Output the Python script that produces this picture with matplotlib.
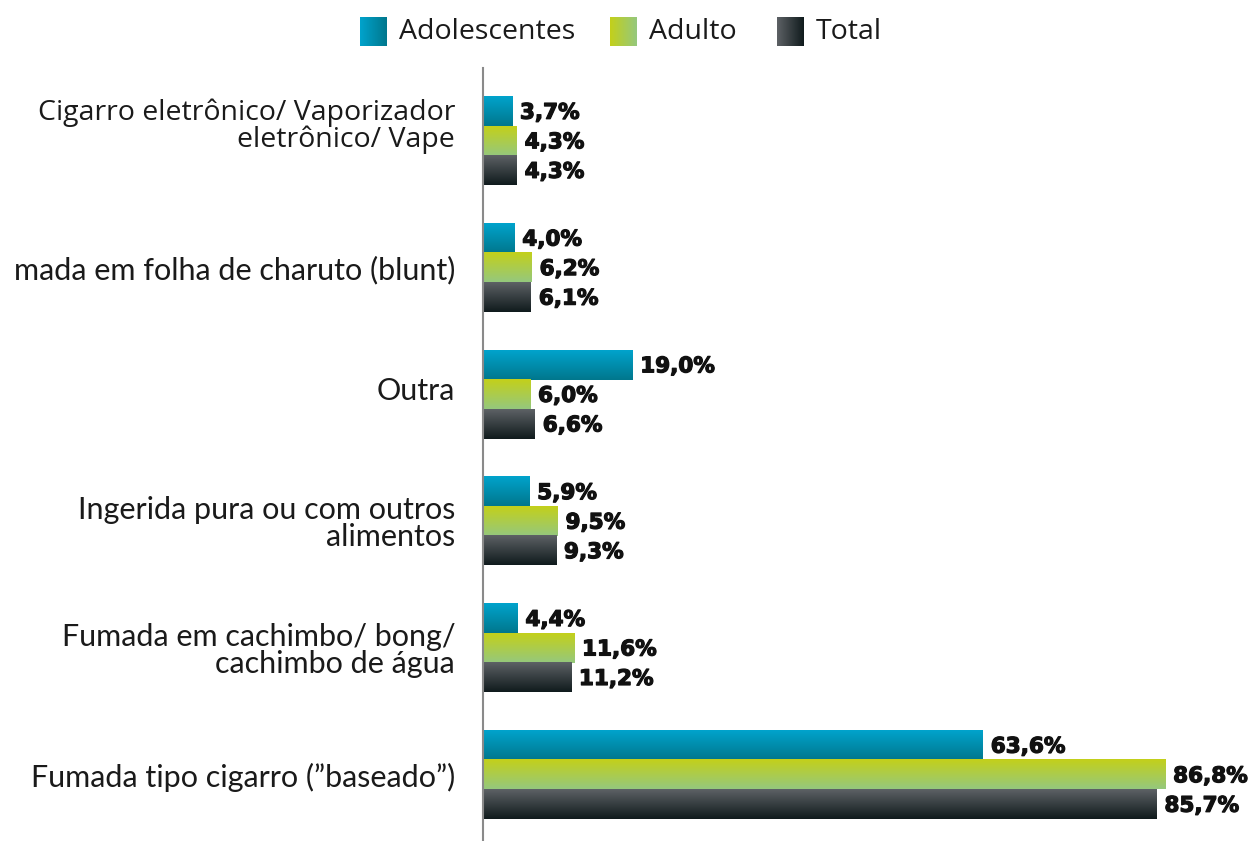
import matplotlib
matplotlib.use("Agg")
import matplotlib.pyplot as plt
import matplotlib.transforms as mtransforms
import matplotlib.patheffects as pe
import numpy as np
from matplotlib.colors import to_rgb

categories = ["Cigarro eletrônico/ Vaporizador\neletrônico/ Vape",
              "mada em folha de charuto (blunt)",
              "Outra",
              "Ingerida pura ou com outros\nalimentos",
              "Fumada em cachimbo/ bong/\ncachimbo de água",
              "Fumada tipo cigarro (\u201dbaseado\u201d)"]
series = ["Adolescentes", "Adulto", "Total"]
adolescentes = [3.7, 4.0, 19.0, 5.9, 4.4, 63.6]
adulto = [4.3, 6.2, 6.0, 9.5, 11.6, 86.8]
total = [4.3, 6.1, 6.6, 9.3, 11.2, 85.7]
values = [adolescentes, adulto, total]

# top colour, bottom colour of each gradient
grads = [("#00a3cc", "#00778d"), ("#c3d01a", "#95c87d"), ("#5d6165", "#101b1d")]

def gradient(c1, c2, n=64, horizontal=False):
    a = np.array(to_rgb(c1)); b = np.array(to_rgb(c2))
    t = np.linspace(0, 1, n)[:, None]
    g = a + (b - a) * t
    g = g[:, None, :] if not horizontal else g[None, :, :]
    return g

fig = plt.figure(figsize=(12.5, 8.41), dpi=100)
ax = fig.add_axes([483/1250, 1 - 840/841, (1250-483)/1250, (840-68)/841])

h = 0.229
offs = [-0.233, 0, 0.233]
ypos = np.arange(len(categories))
thick = [pe.withStroke(linewidth=0.9, foreground="#111111")]
for s in range(3):
    for i, v in enumerate(values[s]):
        y = ypos[i] + offs[s]
        ax.imshow(gradient(*grads[s]), extent=[0, v, y + h/2, y - h/2],
                  aspect="auto", interpolation="bilinear", zorder=2)
        ax.text(v + 1.0, y + 0.01, f"{v:.1f}".replace(".", ",") + "%",
                va="center", ha="left", fontsize=15.5, fontweight="bold",
                family="DejaVu Sans", color="#111111", path_effects=thick)

ax.set_xlim(0, (1250-483)/7.86)
ax.set_ylim(5.513, -0.576)
ax.set_xticks([])
ax.set_yticks(ypos)
ax.set_yticklabels(categories, fontsize=22, family="Lato", color="#1a1a1a",
                   linespacing=0.98)
ax.tick_params(axis="y", length=0, pad=20)
labels = ax.get_yticklabels()
lbl = labels[0]
lbl.set_fontfamily("Open Sans")
lbl.set_fontsize(20.5)
lbl.set_fontweight("medium")
lbl.set_linespacing(0.95)
# small upward shifts seen in the original layout
for k, dy in [(0, 18), (2, 6)]:
    off = mtransforms.ScaledTranslation(0, dy/100, fig.dpi_scale_trans)
    labels[k].set_transform(labels[k].get_transform() + off)
for sp in ["top", "right", "bottom"]:
    ax.spines[sp].set_visible(False)
ax.spines["left"].set_color("#8a8a8a")
ax.spines["left"].set_linewidth(1.5)

# legend drawn by hand with gradient squares
leg_x = [360, 610, 777]
for s in range(3):
    lax = fig.add_axes([leg_x[s]/1250, 1 - 46/841, 27/1250, 29/841])
    lax.imshow(gradient(*grads[s], horizontal=True), aspect="auto",
               interpolation="bilinear")
    lax.axis("off")
    fig.text((leg_x[s] + 39)/1250, 1 - 32/841, series[s], fontsize=20.5,
             family="Open Sans", va="center", ha="left", color="#1a1a1a")

fig.savefig("out.png", dpi=100)
